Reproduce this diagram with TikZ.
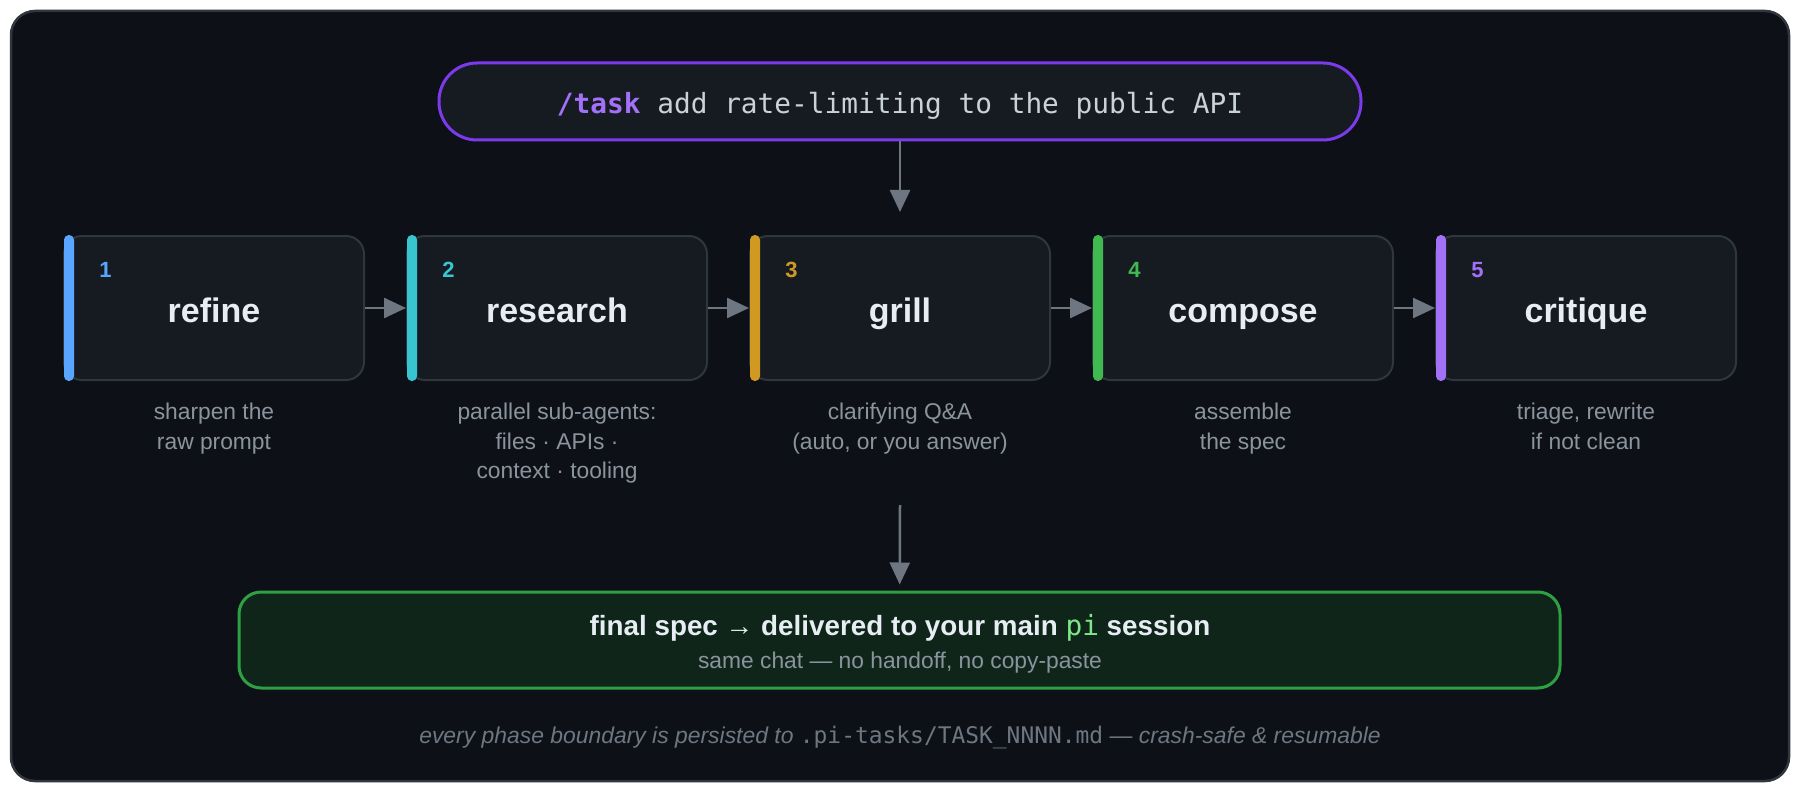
\documentclass[tikz,border=0pt]{standalone}
\usepackage{fontspec}
\setmainfont{Liberation Sans}
\setmonofont{DejaVu Sans Mono}
\usetikzlibrary{positioning,arrows.meta}

\definecolor{bgdark}{HTML}{0D1117}
\definecolor{panel}{HTML}{161B22}
\definecolor{edge}{HTML}{30363D}
\definecolor{ink}{HTML}{E6EDF3}
\definecolor{cmdtext}{HTML}{C9D1D9}
\definecolor{muted}{HTML}{8B949E}
\definecolor{faint}{HTML}{6E7681}
\definecolor{violet}{HTML}{7C3AED}
\definecolor{lilac}{HTML}{A371F7}
\definecolor{sky}{HTML}{58A6FF}
\definecolor{aqua}{HTML}{39C5CF}
\definecolor{amber}{HTML}{D29922}
\definecolor{leaf}{HTML}{3FB950}
\definecolor{okgreen}{HTML}{2EA043}
\definecolor{finalbg}{HTML}{10251A}
\definecolor{pigreen}{HTML}{7EE787}

\tikzset{
  phase/.style={draw=edge, fill=panel, line width=1pt, rounded corners=9pt,
    minimum width=150pt, minimum height=72pt, inner sep=0pt},
  phasenum/.style={font=\fontsize{11}{13}\selectfont\bfseries, inner sep=0pt},
  phasetitle/.style={font=\fontsize{17}{20}\selectfont\bfseries, text=ink, inner sep=0pt},
  phasenote/.style={font=\fontsize{11.4}{14.75}\selectfont, text=muted, align=center, inner sep=0pt},
  flow/.style={draw=faint, line width=1.25pt, -{Triangle[length=11pt,width=10pt]}},
}

% #1 name (= title), #2 centre x, #3 colour, #4 number, #5 note
\newcommand{\PhaseBox}[5]{%
  \node[phase] (#1) at (#2,308) {};
  \fill[#3, rounded corners=2.4pt] ([xshift=0.5pt]#1.north west) rectangle ([xshift=5.5pt]#1.south west);
  \node[phasenum, text=#3, anchor=base west] (#1-num) at (#2-115,277) {#4};
  \node[phasetitle, anchor=base] (#1-title) at (#2,322) {#1};
  \node[phasenote, below=11pt of #1] (#1-note) {#5};
}

\begin{document}
\begin{tikzpicture}[x=0.5pt, y=-0.5pt]
  \fill[white] (0,0) rectangle (1800,792);
  \useasboundingbox (0,0) rectangle (1800,792);
  \draw[edge, fill=bgdark, line width=1.25pt, rounded corners=12pt] (11,11) rectangle (1789,781);

  % command
  \node[draw=violet, fill=panel, line width=1.5pt, rounded corners=19pt,
    minimum width=461pt, minimum height=38.5pt, text=cmdtext,
    font=\ttfamily\fontsize{13.9}{16}\selectfont, text height=12pt, text depth=0pt]
    (cmd) at (900,101.5) {\textbf{\color{lilac}/task} add rate-limiting to the public API};

  % phases
  \PhaseBox{refine}{214}{sky}{1}{sharpen the\\raw prompt}
  \PhaseBox{research}{557}{aqua}{2}{parallel sub-agents:\\files · APIs ·\\context · tooling}
  \PhaseBox{grill}{900}{amber}{3}{clarifying Q\&A\\(auto, or you answer)}
  \PhaseBox{compose}{1243}{leaf}{4}{assemble\\the spec}
  \PhaseBox{critique}{1586}{lilac}{5}{triage, rewrite\\if not clean}

  \draw[flow, shorten >=11.5pt] (cmd) -- (grill);
  \draw[flow] (refine) -- (research);
  \draw[flow] (research) -- (grill);
  \draw[flow] (grill) -- (compose);
  \draw[flow] (compose) -- (critique);

  % result
  \node[draw=okgreen, fill=finalbg, line width=1.5pt, rounded corners=11pt,
    minimum width=660.5pt, minimum height=48pt] (final) at (899.5,640) {};
  \node[anchor=base, inner sep=0pt, text=ink, font=\fontsize{13.9}{16}\selectfont\bfseries]
    (final-head) at (900,635) {final spec → delivered to your main {\mdseries\ttfamily\color{pigreen}pi} session};
  \node[anchor=base, inner sep=0pt, text=muted, font=\fontsize{11.4}{14}\selectfont]
    (final-sub) at (900,668) {same chat — no handoff, no copy-paste};
  \coordinate (split) at (900,505);
  \draw[flow, shorten >=3pt] (split) -- (final);

  \node[anchor=base, inner sep=0pt, text=faint, font=\fontsize{11.45}{13}\selectfont]
    (footer) at (900,743) {\itshape every phase boundary is persisted to {\upshape\ttfamily .pi-tasks/TASK\_NNNN.md} — crash-safe \& resumable};
\end{tikzpicture}
\end{document}
